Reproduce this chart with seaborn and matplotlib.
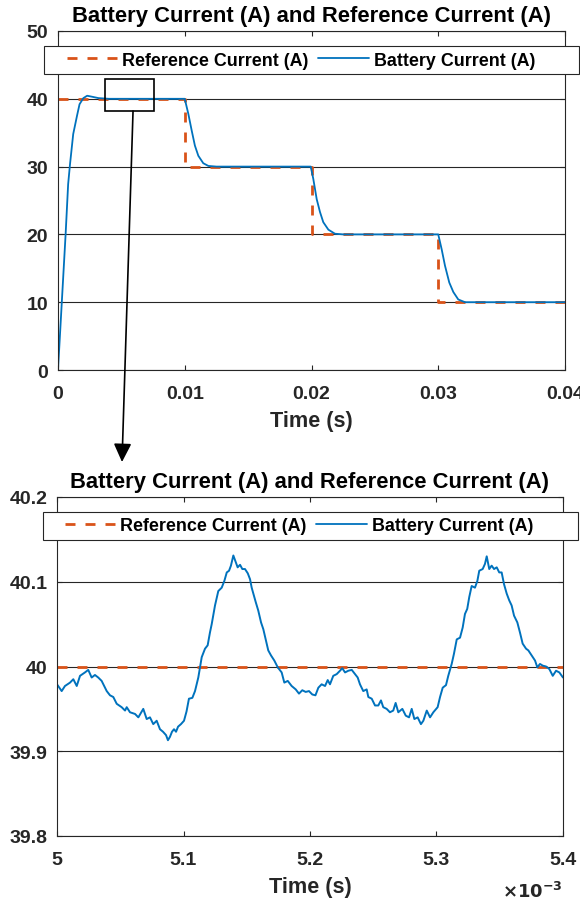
import matplotlib
matplotlib.use("Agg")
import matplotlib.pyplot as plt
import numpy as np
import pandas as pd
import seaborn as sns
from matplotlib.lines import Line2D
from matplotlib.patches import Rectangle, ConnectionPatch, ArrowStyle
from matplotlib.ticker import FuncFormatter

# ---------------- data ----------------
# Full run: battery current following a stepped reference (time in s, current in A)
ref_time = [0.0, 0.01, 0.01, 0.02, 0.02, 0.03, 0.03, 0.04]
ref_current = [40, 40, 30, 30, 20, 20, 10, 10]

batt_time = [0.0, 0.0003, 0.0006, 0.0008, 0.00095, 0.0012, 0.0015, 0.0017,
             0.0020, 0.0023, 0.0027, 0.0032, 0.0040, 0.0100, 0.01028, 0.01055,
             0.0108, 0.01107, 0.01146, 0.01186, 0.0125, 0.01994, 0.02014,
             0.02041, 0.02067, 0.02093, 0.02133, 0.02185, 0.0225, 0.0300,
             0.03027, 0.03053, 0.03087, 0.03119, 0.03158, 0.03211, 0.0400]
batt_current = [0.0, 10.0, 20.0, 27.4, 30.4, 34.8, 37.5, 39.2,
                40.1, 40.45, 40.3, 40.1, 40.0, 40.0, 37.8, 35.3,
                33.1, 31.6, 30.5, 30.1, 30.0, 30.0, 28.2,
                25.2, 23.3, 21.8, 20.7, 20.1, 20.0, 20.0,
                17.8, 15.4, 12.9, 11.5, 10.4, 10.0, 10.0]

# Detail window 5.0-5.4 ms: ripple around the 40 A set point (time in ms)
zoom_ref_ms = [5.0, 5.4]
zoom_ref_current = [40.0, 40.0]

zoom_time_ms = [
    5.0000, 5.0037, 5.0063, 5.0103, 5.0129, 5.0156, 5.0182, 5.0221, 5.0247, 5.0274,
    5.0300, 5.0326, 5.0353, 5.0393, 5.0419, 5.0445, 5.0472, 5.0511, 5.0538, 5.0551,
    5.0577, 5.0617, 5.0643, 5.0682, 5.0709, 5.0735, 5.0761, 5.0788, 5.0814, 5.0838,
    5.0862, 5.0877, 5.0893, 5.0909, 5.0925, 5.0941, 5.0957, 5.0980, 5.1004, 5.1024,
    5.1043, 5.1070, 5.1091, 5.1117, 5.1144, 5.1170, 5.1191, 5.1209, 5.1223, 5.1249,
    5.1275, 5.1302, 5.1323, 5.1342, 5.1360, 5.1375, 5.1394, 5.1413, 5.1428, 5.1447,
    5.1465, 5.1486, 5.1508, 5.1526, 5.1539, 5.1552, 5.1571, 5.1591, 5.1613, 5.1631,
    5.1650, 5.1670, 5.1692, 5.1718, 5.1745, 5.1776, 5.1797, 5.1824, 5.1855, 5.1887,
    5.1913, 5.1939, 5.1966, 5.1992, 5.2018, 5.2043, 5.2066, 5.2092, 5.2119, 5.2140,
    5.2158, 5.2184, 5.2211, 5.2237, 5.2255, 5.2277, 5.2303, 5.2330, 5.2356, 5.2377,
    5.2395, 5.2421, 5.2448, 5.2461, 5.2488, 5.2514, 5.2540, 5.2561, 5.2579, 5.2606,
    5.2632, 5.2658, 5.2677, 5.2698, 5.2730, 5.2757, 5.2783, 5.2804, 5.2825, 5.2851,
    5.2877, 5.2896, 5.2923, 5.2949, 5.2975, 5.3009, 5.3028, 5.3049, 5.3075, 5.3093,
    5.3120, 5.3138, 5.3160, 5.3186, 5.3207, 5.3225, 5.3243, 5.3259, 5.3278, 5.3304,
    5.3323, 5.3338, 5.3365, 5.3383, 5.3397, 5.3417, 5.3436, 5.3455, 5.3476, 5.3496,
    5.3515, 5.3534, 5.3555, 5.3575, 5.3594, 5.3613, 5.3639, 5.3660, 5.3681, 5.3708,
    5.3726, 5.3753, 5.3779, 5.3797, 5.3818, 5.3840, 5.3866, 5.3892, 5.3919, 5.3945,
    5.3971, 5.4000]
zoom_current = [
    39.979, 39.971, 39.977, 39.981, 39.985, 39.977, 39.989, 39.993, 39.996, 39.987,
    39.990, 39.987, 39.983, 39.971, 39.966, 39.964, 39.956, 39.952, 39.948, 39.952,
    39.946, 39.944, 39.940, 39.950, 39.938, 39.940, 39.932, 39.936, 39.926, 39.923,
    39.919, 39.913, 39.917, 39.923, 39.926, 39.923, 39.929, 39.932, 39.936, 39.947,
    39.962, 39.963, 39.971, 39.987, 40.011, 40.021, 40.025, 40.040, 40.050, 40.072,
    40.089, 40.093, 40.101, 40.111, 40.113, 40.119, 40.131, 40.123, 40.117, 40.120,
    40.115, 40.115, 40.110, 40.103, 40.093, 40.086, 40.076, 40.066, 40.052, 40.044,
    40.032, 40.019, 40.013, 40.007, 39.999, 39.993, 39.981, 39.983, 39.977, 39.973,
    39.968, 39.972, 39.970, 39.971, 39.967, 39.966, 39.975, 39.979, 39.977, 39.984,
    39.979, 39.989, 39.991, 39.995, 39.998, 39.993, 39.995, 39.996, 39.991, 39.987,
    39.979, 39.971, 39.973, 39.964, 39.962, 39.954, 39.954, 39.960, 39.952, 39.950,
    39.946, 39.948, 39.957, 39.946, 39.950, 39.942, 39.940, 39.950, 39.938, 39.940,
    39.932, 39.936, 39.948, 39.940, 39.946, 39.952, 39.964, 39.975, 39.978, 39.989,
    40.003, 40.015, 40.032, 40.034, 40.046, 40.062, 40.068, 40.082, 40.095, 40.093,
    40.101, 40.113, 40.115, 40.121, 40.130, 40.115, 40.119, 40.115, 40.117, 40.111,
    40.111, 40.097, 40.086, 40.078, 40.072, 40.060, 40.052, 40.040, 40.027, 40.021,
    40.019, 40.013, 40.007, 39.999, 40.003, 40.001, 40.000, 39.997, 39.989, 39.995,
    39.993, 39.987]

# Highlighted window in the full run (time span, current span)
box_time = (0.00371, 0.00757)
box_current = (38.2, 42.92)

TITLE = "Battery Current (A) and Reference Current (A)"
LABELS = ["Reference Current (A)", "Battery Current (A)"]

# ---------------- style ----------------
BLUE = "#0072BD"
ORANGE = "#D95319"
INK = "#262626"

sns.set_style("ticks")
plt.rcParams.update({
    "font.family": ["Liberation Sans", "DejaVu Sans"],
    "font.weight": "bold",
    "axes.titleweight": "bold",
    "axes.labelweight": "bold",
    "axes.edgecolor": INK,
    "axes.linewidth": 0.8,
    "xtick.color": INK,
    "ytick.color": INK,
    "text.color": "black",
    "axes.labelcolor": INK,
})

W, H = 580, 903
fig = plt.figure(figsize=(W / 100, H / 100), dpi=100)

ax1 = fig.add_axes([58 / W, 1 - 371 / H, 507 / W, 339 / H])
ax2 = fig.add_axes([57 / W, 1 - 837 / H, 506 / W, 339 / H])

df_ref = pd.DataFrame({"t": ref_time, "i": ref_current})
df_bat = pd.DataFrame({"t": batt_time, "i": batt_current})
df_zref = pd.DataFrame({"t": np.array(zoom_ref_ms) * 1e-3, "i": zoom_ref_current})
df_zbat = pd.DataFrame({"t": np.array(zoom_time_ms) * 1e-3, "i": zoom_current})

dash = (0, (3.6, 3.6))
for ax, dr, db in ((ax1, df_ref, df_bat), (ax2, df_zref, df_zbat)):
    sns.lineplot(data=dr, x="t", y="i", ax=ax, color=ORANGE, lw=2.0,
                 linestyle=dash, sort=False, estimator=None)
    sns.lineplot(data=db, x="t", y="i", ax=ax, color=BLUE,
                 lw=1.4 if ax is ax2 else 1.3, sort=False, estimator=None)
    ax.set_axisbelow(True)
    ax.yaxis.grid(True, color=INK, lw=0.8)
    ax.xaxis.grid(False)
    for s in ax.spines.values():
        s.set_visible(True)
        s.set_color(INK)
        s.set_linewidth(0.8)
    ax.tick_params(direction="in", top=True, right=True, length=3.6, width=0.8,
                   labelsize=14)
    ax.tick_params(axis="x", pad=10.5)
    ax.tick_params(axis="y", pad=7)
    ax.set_title(TITLE, fontsize=15.8, fontweight="bold", pad=7, color="black")
    ax.set_xlabel("Time (s)", fontsize=15.6, labelpad=6)
    ax.set_ylabel("")

ax1.set_xlim(0, 0.04)
ax1.set_ylim(0, 50)
ax1.set_xticks([0, 0.01, 0.02, 0.03, 0.04])
ax1.set_yticks([0, 10, 20, 30, 40, 50])
ax1.xaxis.set_major_formatter(FuncFormatter(lambda v, p: f"{round(v, 4):g}"))
ax1.yaxis.set_major_formatter(FuncFormatter(lambda v, p: f"{round(v, 1):g}"))

ax2.set_xlim(0.005, 0.0054)
ax2.set_ylim(39.8, 40.2)
ax2.set_xticks([0.005, 0.0051, 0.0052, 0.0053, 0.0054])
ax2.set_yticks([39.8, 39.9, 40.0, 40.1, 40.2])
ax2.xaxis.set_major_formatter(FuncFormatter(lambda v, p: f"{round(v * 1e3, 1):g}"))
ax2.yaxis.set_major_formatter(FuncFormatter(lambda v, p: f"{round(v, 1):g}"))
ax2.text(1.0, -0.162, r"$\times\mathbf{10^{-3}}$", transform=ax2.transAxes,
         ha="right", va="center", fontsize=13, color=INK)

for ax in (ax1, ax2):
    for lab in ax.get_xticklabels() + ax.get_yticklabels():
        lab.set_fontweight("bold")

# highlight box on the full run and arrow down to the detail view
ax1.add_patch(Rectangle((box_time[0], box_current[0]),
                        box_time[1] - box_time[0], box_current[1] - box_current[0],
                        fill=False, ec="black", lw=1.2, zorder=6))
arrow = ConnectionPatch(
    xyA=(0.00592, box_current[0]), coordsA=ax1.transData,
    xyB=(122 / W, 1 - 463 / H), coordsB=fig.transFigure,
    arrowstyle=ArrowStyle("-|>", head_length=0.75, head_width=0.36),
    mutation_scale=15, lw=1.2, color="black", shrinkA=0, shrinkB=0, zorder=8)
fig.add_artist(arrow)

# legends: wide frame boxes with the two entries in one row
handles = [Line2D([], [], color=ORANGE, lw=2.0, linestyle=dash),
           Line2D([], [], color=BLUE, lw=1.3)]
for x0, x1, y0, y1, hx in ((44, 579, 47, 75, 67), (43, 578, 513, 541, 65)):
    fig.add_artist(Rectangle((x0 / W, 1 - y1 / H), (x1 - x0) / W, (y1 - y0) / H,
                             transform=fig.transFigure, fc="white", ec=INK,
                             lw=0.8, zorder=3))
    fig.legend(handles, LABELS, loc="center left",
               bbox_to_anchor=(hx / W, 1 - (y0 + y1) / 2 / H),
               bbox_transform=fig.transFigure, frameon=False, ncol=2,
               handlelength=2.8, handletextpad=0.28,
               columnspacing=0.55, borderpad=0, borderaxespad=0,
               prop={"weight": "bold", "size": 12.9})

fig.savefig("out.png", dpi=100)
